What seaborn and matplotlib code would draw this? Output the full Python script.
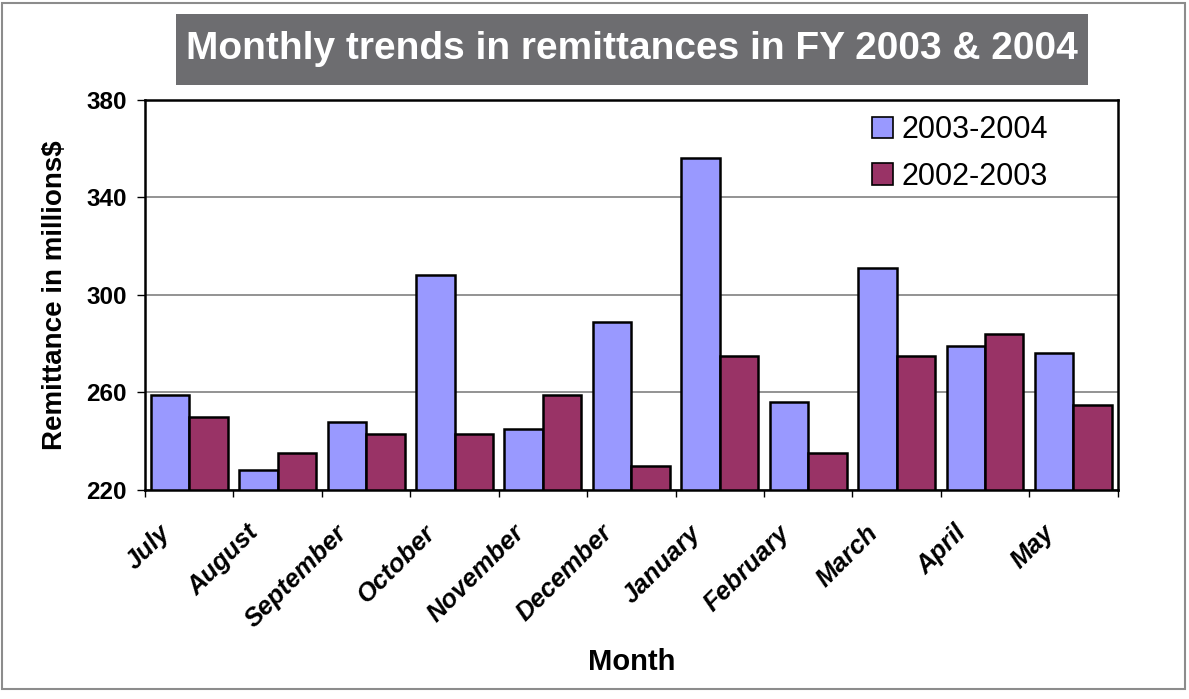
import numpy as np
import pandas as pd
import matplotlib
matplotlib.use("Agg")
import matplotlib.pyplot as plt
import matplotlib.transforms as mtrans
from matplotlib.patches import Rectangle, Patch
import seaborn as sns

months = ["July", "August", "September", "October", "November", "December",
          "January", "February", "March", "April", "May"]
fy_2004 = [259, 228, 248, 308, 245, 289, 356, 256, 311, 279, 276]
fy_2003 = [250, 235, 243, 243, 259, 230, 275, 235, 275, 284, 255]
series = ["2003-2004", "2002-2003"]
colors = ["#9999FF", "#993366"]
yticks = [220, 260, 300, 340, 380]

df = pd.DataFrame({
    "Month": months * 2,
    "Remittance": fy_2004 + fy_2003,
    "Period": [series[0]] * len(months) + [series[1]] * len(months),
})

sns.set_style("white")
plt.rcParams["font.family"] = ["Liberation Sans", "DejaVu Sans"]
plt.rcParams["text.color"] = "black"
plt.rcParams["xtick.color"] = "black"
plt.rcParams["ytick.color"] = "black"
plt.rcParams["axes.labelcolor"] = "black"

fig = plt.figure(figsize=(11.89, 6.99), dpi=100)
ax = fig.add_axes([0.122, 0.299, 0.818, 0.558])

sns.barplot(data=df, x="Month", y="Remittance", hue="Period", hue_order=series,
            palette=colors, width=0.87, edgecolor="black", linewidth=1.8,
            saturation=1, ax=ax, legend=False)

ax.set_ylim(220, 380)
ax.set_xlim(-0.5, len(months) - 0.5)
ax.set_yticks(yticks)
ax.set_yticklabels([str(t) for t in yticks], fontsize=17.5, fontweight="bold")
ax.yaxis.grid(True, color="#808080", linewidth=1.2)
ax.set_axisbelow(True)
ax.tick_params(axis="y", length=6, width=1, direction="out", left=True, pad=7)

ax.set_xticks(range(len(months)))
ax.set_xticklabels(months, rotation=45, ha="right", rotation_mode="anchor",
                   fontsize=18.5, fontweight="bold", fontstyle="italic")
ax.tick_params(axis="x", which="major", length=0, pad=22)
shift = mtrans.ScaledTranslation(-0.31, 0, fig.dpi_scale_trans)
for lab in ax.get_xticklabels():
    lab.set_transform(lab.get_transform() + shift)
ax.set_xticks(np.arange(-0.5, len(months), 1.0), minor=True)
ax.tick_params(axis="x", which="minor", length=5, width=1, direction="out", bottom=True)

for s in ax.spines.values():
    s.set_color("black")
    s.set_linewidth(1.8)

ax.set_xlabel("Month", fontsize=21, fontweight="bold", labelpad=12)
ax.set_ylabel("Remittance in millions$", fontsize=20, fontweight="bold", labelpad=13)

handles = [Patch(facecolor=c, edgecolor="black", linewidth=1.2) for c in colors]
ax.legend(handles, series, loc="upper left", bbox_to_anchor=(872 / 1189, 1 - 115 / 699),
          bbox_transform=fig.transFigure, frameon=False, fontsize=22,
          handlelength=0.7, handleheight=0.7, handletextpad=0.25, labelspacing=0.55,
          borderpad=0, borderaxespad=0)

# title box
fig.patches.append(Rectangle((176 / 1189, 1 - 85 / 699), 912 / 1189, 71 / 699,
                             transform=fig.transFigure, facecolor="#6D6D70",
                             edgecolor="none", zorder=0))
fig.text(632 / 1189, 1 - 49 / 699, "Monthly trends in remittances in FY 2003 & 2004",
         ha="center", va="center", color="white", fontsize=28, fontweight="bold")

# outer border
fig.patches.append(Rectangle((0.002, 0.014), 0.995, 0.982, transform=fig.transFigure,
                             fill=False, edgecolor="#8C8C8C", linewidth=1.5))

fig.savefig("out.png", dpi=100)
